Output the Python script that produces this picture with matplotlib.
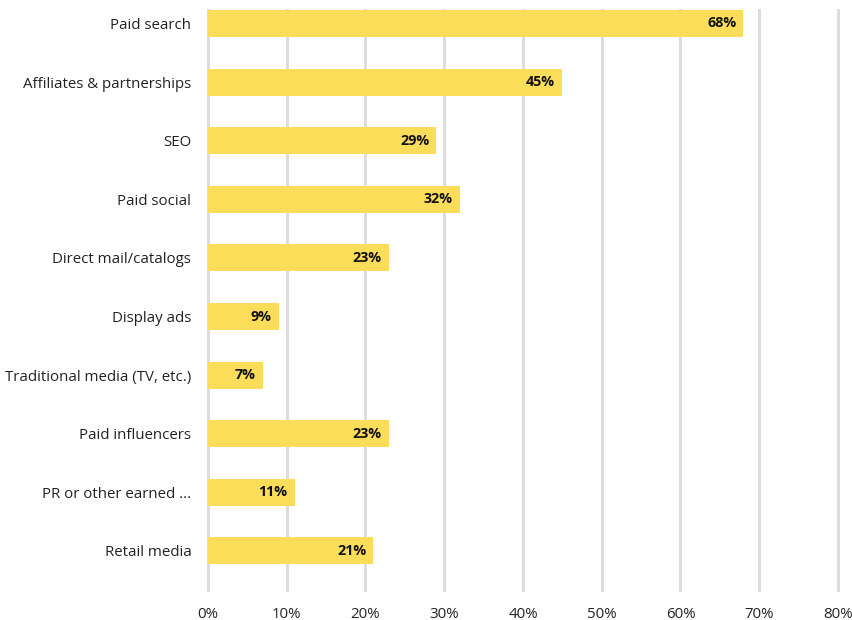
import matplotlib.pyplot as plt

# channel shares (percent of respondents)
channels = ['Paid search', 'Affiliates & partnerships', 'SEO', 'Paid social',
            'Direct mail/catalogs', 'Display ads', 'Traditional media (TV, etc.)',
            'Paid influencers', 'PR or other earned ...', 'Retail media']
shares = [68, 45, 29, 32, 23, 9, 7, 23, 11, 21]
xticks = [0, 10, 20, 30, 40, 50, 60, 70, 80]

plt.rcParams['font.family'] = ['Open Sans', 'DejaVu Sans']

fig = plt.figure(figsize=(8.53, 6.2), dpi=100)
ax = fig.add_axes([0.2438, 0.0484, 0.7386, 0.9355])

pos = list(range(len(channels)))
ax.barh(pos, shares, height=0.46, color='#FCDD5A', zorder=3)

for y, v in zip(pos, shares):
    ax.text(v - 0.9, y, f'{v}%', ha='right', va='center',
            fontsize=10.3, fontweight='bold', color='#111111', zorder=4)

ax.set_xlim(0, 80)
ax.set_ylim(9.666, -0.23)
ax.set_yticks(pos)
ax.set_yticklabels(channels, fontsize=10.8, color='#222222')
ax.set_xticks(xticks)
ax.set_xticklabels([f'{t}%' for t in xticks], fontsize=10.8, color='#222222')
ax.tick_params(axis='y', length=0, pad=12)
ax.tick_params(axis='x', length=0, pad=12)

ax.grid(axis='x', color='#DDDDDD', linewidth=2.2, zorder=0)
# keep the edge gridlines at full width
for gl in ax.get_xgridlines():
    gl.set_clip_on(False)
for s in ax.spines.values():
    s.set_visible(False)

fig.savefig('out.png', dpi=100)
